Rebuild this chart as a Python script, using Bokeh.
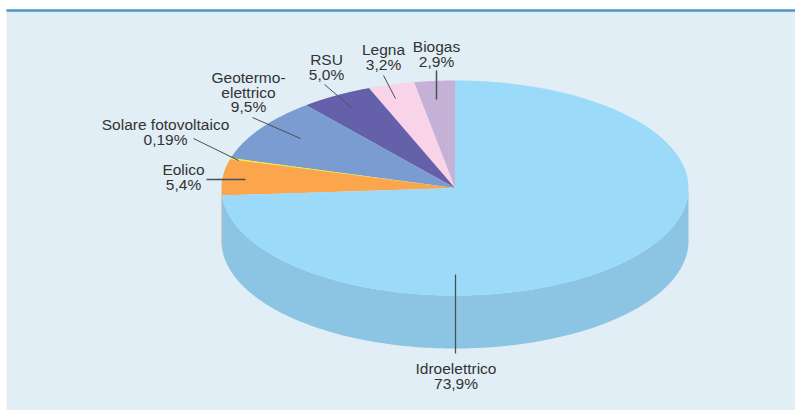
import numpy as np
from bokeh.plotting import figure
from bokeh.models import ColumnDataSource
from bokeh.core.properties import value
from bokeh.embed import file_html
from bokeh.resources import INLINE

# Data
categories = ["Idroelettrico", "Eolico", "Solare fotovoltaico", "Geotermoelettrico", "RSU", "Legna", "Biogas"]
shares = [73.9, 5.4, 0.19, 9.5, 5.0, 3.2, 2.9]
share_labels = ["73,9%", "5,4%", "0,19%", "9,5%", "5,0%", "3,2%", "2,9%"]
label_names = [["Idroelettrico"], ["Eolico"], ["Solare fotovoltaico"], ["Geotermo-", "elettrico"], ["RSU"], ["Legna"], ["Biogas"]]

# Styles and layout
top_colors = ["#9BDAF9", "#FBA64C", "#FFF200", "#7B9CD1", "#6560AA", "#F9D3E8", "#C5B1D6"]
side_colors = ["#8CC5E3", "#E0A468"]
PANEL = "#E1EEF5"
RULE = "#4F97BC"
INK = "#333333"
LEAD = "#4A4F55"
W, H = 795, 410
OX, OY = 0, 0   # page position of the figure's corner
CX, CY, RX, RY, DEPTH = 454.5, 187.5, 233.5, 107.5, 53
FS = "15.5px"
LINE = 14.5
label_x = [455.5, 183, 165, 248, 326, 383, 436]
label_y = [368, 169, 124, 77, 59, 49, 46]
lead_x0 = [455, 206, 193, 252, 324, 383, 436]
lead_y0 = [274, 179, 138, 117, 84, 75, 70]
lead_x1 = [455, 245, 238, 300, 351, 395, 436]
lead_y1 = [353, 179, 160, 138, 107, 98, 99]
lead_w = [1.3, 1.3, 1.0, 1.0, 1.0, 1.0, 1.5]

p = figure(width=W, height=H, x_range=(OX, OX + W), y_range=(OY + H, OY),
           output_backend="svg", toolbar_location=None, min_border=0,
           background_fill_color="white", border_fill_color="white", outline_line_color=None)
p.axis.visible = False
p.grid.visible = False

p.quad(left=6, right=OX + W, top=10, bottom=OY + H, fill_color=PANEL, line_color=None)
p.segment(x0=[6], y0=[10], x1=[OX + W], y1=[10], line_color=RULE, line_width=2.5)


def rim(a0, a1, n=200):
    t = np.linspace(a0, a1, n)
    return CX + RX * np.sin(t), CY - RY * np.cos(t)


cum = np.concatenate([[0], np.cumsum(shares)]) / 100 * 2 * np.pi

# Visible side walls (lower half of the ellipse)
for i, (a0, a1) in enumerate([(np.pi / 2, cum[1]), (cum[1], 3 * np.pi / 2)]):
    x, y = rim(a0, a1)
    p.patch(np.r_[x, x[::-1]], np.r_[y, y[::-1] + DEPTH], fill_color=side_colors[i], line_color=None)

# Top faces, drawn so the first slice lies above the others
for i in range(len(shares) - 1, -1, -1):
    x, y = rim(cum[i], cum[i + 1])
    p.patch(np.r_[CX, x], np.r_[CY, y], fill_color=top_colors[i], line_color=None)

p.segment(x0=lead_x0, y0=lead_y0, x1=lead_x1, y1=lead_y1,
          line_color=LEAD, line_width=lead_w)

tx, ty, tt = [], [], []
for i, names in enumerate(label_names):
    lines = names + [share_labels[i]]
    for j, s in enumerate(lines):
        tx.append(label_x[i])
        ty.append(label_y[i] + j * LINE)
        tt.append(s)
src = ColumnDataSource(dict(x=tx, y=ty, t=tt))
p.text(x="x", y="y", text="t", source=src, text_font=value("Liberation Sans"),
       text_font_size=value(FS), text_color=INK, text_align="center", text_baseline="middle")

open("out.html", "w").write(file_html(p, INLINE))
